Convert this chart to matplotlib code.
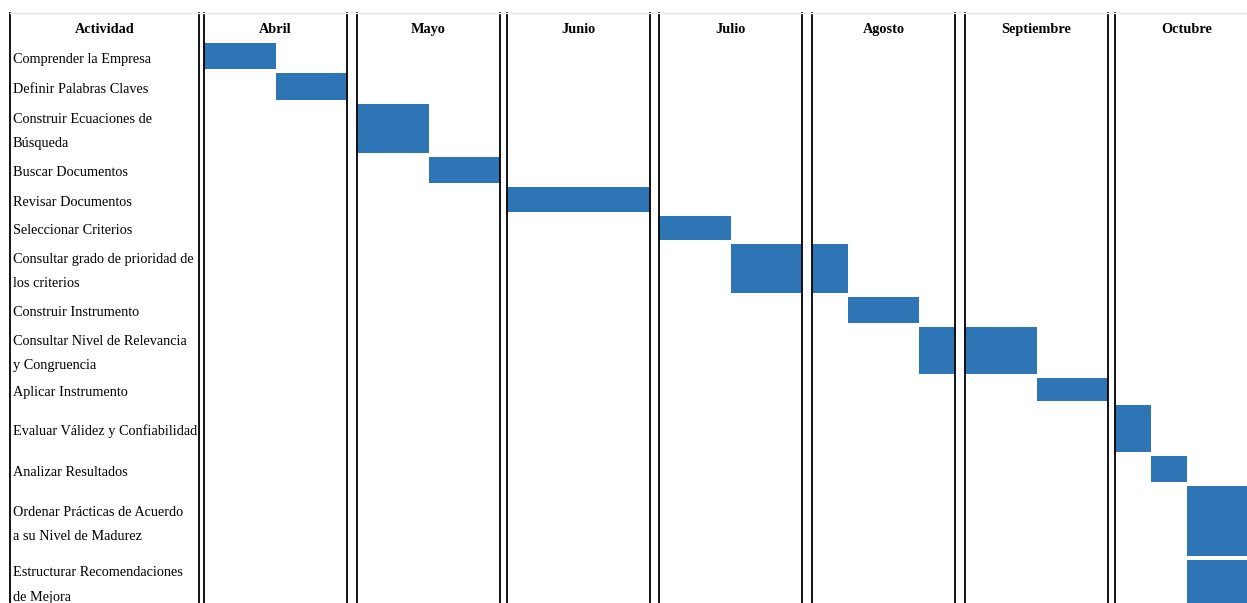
import matplotlib.pyplot as plt
from matplotlib.lines import Line2D

# datos del cronograma (inicio / fin en meses desde abril)
meses = ['Abril', 'Mayo', 'Junio', 'Julio', 'Agosto', 'Septiembre', 'Octubre']
actividades = ['Comprender la Empresa',
               'Definir Palabras Claves',
               'Construir Ecuaciones de\nBúsqueda',
               'Buscar Documentos',
               'Revisar Documentos',
               'Seleccionar Criterios',
               'Consultar grado de prioridad de\nlos criterios',
               'Construir Instrumento',
               'Consultar Nivel de Relevancia\ny Congruencia',
               'Aplicar Instrumento',
               'Evaluar Válidez y Confiabilidad',
               'Analizar Resultados',
               'Ordenar Prácticas de Acuerdo\na su Nivel de Madurez',
               'Estructurar Recomendaciones\nde Mejora']
inicio = [0, 0.5, 1, 1.5, 2, 3, 3.5, 4.25, 4.75, 5.5, 6, 6.25, 6.5, 6.5]
fin = [0.5, 1, 1.5, 2, 3, 3.5, 4.25, 4.75, 5.5, 6, 6.25, 6.5, 7, 7]

# layout (pixeles)
W, H = 1247, 603
top = 13
limites = [41, 71, 102, 155, 185, 214, 242, 295, 325, 376, 403, 454, 484, 558, 606]
col_x = [204, 357, 507, 659, 812, 965, 1115]
col_w = 143
interlinea = 24
azul = '#2e75b6'

plt.rcParams['font.family'] = ['Liberation Serif', 'DejaVu Serif']
plt.rcParams['font.size'] = 10.3

fig = plt.figure(figsize=(W / 100, H / 100), dpi=100)

def nuevo_ax(x0, w):
    ax = fig.add_axes([x0 / W, 0, w / W, (H - top) / H])
    ax.set_ylim(H, top)
    ax.set_xticks([]); ax.set_yticks([])
    for s in ['top', 'bottom']:
        ax.spines[s].set_visible(False)
    for s in ['left', 'right']:
        ax.spines[s].set_linewidth(1.3)
        ax.spines[s].set_color('black')
        ax.spines[s].set_zorder(3)
    ax.patch.set_alpha(0)
    return ax

# columna de actividades
ax_lab = nuevo_ax(10, 189)
ax_lab.set_xlim(10, 199)
ax_lab.text(104.5, 28, 'Actividad', ha='center', va='center_baseline',
            fontweight='bold')
for i, act in enumerate(actividades):
    yc = (limites[i] + limites[i + 1]) / 2 + 1.5
    lineas = act.split('\n')
    y = yc - interlinea * (len(lineas) - 1) / 2
    for ln in lineas:
        ax_lab.text(13, y, ln, ha='left', va='center_baseline')
        y += interlinea

# columnas de meses
for m, nombre in enumerate(meses):
    ax = nuevo_ax(col_x[m], col_w)
    ax.set_xlim(m, m + 1)
    ax.text(m + 0.5, 28, nombre, ha='center', va='center_baseline',
            fontweight='bold')
    for i in range(len(actividades)):
        y0 = limites[i] + 2
        y1 = limites[i + 1] + 2 if i == len(actividades) - 1 else limites[i + 1] - 2
        ax.barh((y0 + y1) / 2, fin[i] - inicio[i], left=inicio[i],
                height=y1 - y0, color=azul, zorder=2)

fig.add_artist(Line2D([10 / W, 1], [1 - top / H, 1 - top / H],
                      color='#e6e6e6', lw=1))

fig.savefig('out.png', dpi=100)
